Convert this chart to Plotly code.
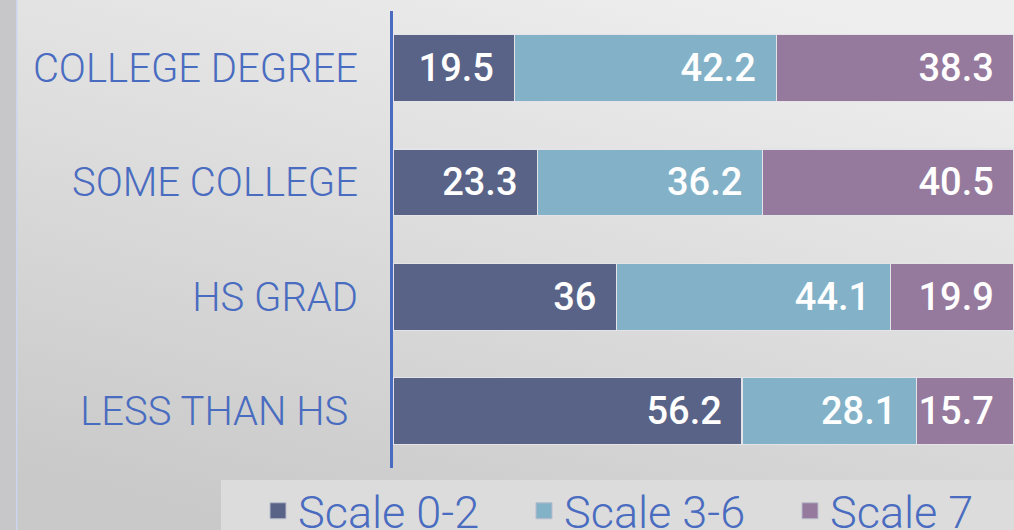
import base64
import plotly.graph_objects as go

# ---- data ----
categories = ["LESS THAN HS", "HS GRAD", "SOME COLLEGE", "COLLEGE DEGREE"]
tick_text = ["LESS THAN HS\u00a0", "HS GRAD", "SOME COLLEGE", "COLLEGE DEGREE"]
series_names = ["Scale 0-2", "Scale 3-6", "Scale 7"]
scale_0_2 = [56.2, 36, 23.3, 19.5]
scale_3_6 = [28.1, 44.1, 36.2, 42.2]
scale_7 = [15.7, 19.9, 40.5, 38.3]
colors = ["#596387", "#83b2c8", "#967a9e"]

W, H = 1014, 530
L, R, T, B = 393, 0, 11, 62
pw, ph = W - L - R, H - T - B

def px_x(px):
    return (px - L) / pw

def px_y(py):
    return (H - B - py) / ph

# background (gradient + left band) as an inline SVG image
svg = f"""<svg xmlns='http://www.w3.org/2000/svg' width='{W}' height='{H}'>
<defs><linearGradient id='g' x1='0.75' y1='0' x2='0.25' y2='1'>
<stop offset='0' stop-color='#eeeeee'/><stop offset='1' stop-color='#c9c9c9'/></linearGradient></defs>
<rect width='{W}' height='{H}' fill='url(#g)'/>
<rect x='0' y='0' width='16' height='{H}' fill='#c7c7ca'/>
<rect x='16' y='0' width='1.5' height='{H}' fill='#cdd5ee'/>
</svg>"""
bg_src = "data:image/svg+xml;base64," + base64.b64encode(svg.encode()).decode()

fig = go.Figure()
for name, vals, col in zip(series_names, [scale_0_2, scale_3_6, scale_7], colors):
    fig.add_trace(go.Bar(
        y=categories, x=vals, name=name, orientation="h",
        marker=dict(color=col, line=dict(color="#e4e4e8", width=1.2)),
        text=[f"{v}\u00a0\u2009" for v in vals],
        textposition="inside", insidetextanchor="end", textangle=0,
        textfont=dict(family="Roboto", size=38, color="white", weight=500),
        constraintext="none",
        hoverinfo="skip", showlegend=False, legendgroup=name,
    ))
# legend entries (larger square swatches)
for name, col in zip(series_names, colors):
    fig.add_trace(go.Scatter(
        x=[None], y=[None], mode="markers", name=name, legendgroup=name,
        marker=dict(symbol="square", size=21, color=col,
                    line=dict(color="#b9bccb", width=1)),
        hoverinfo="skip",
    ))

fig.update_layout(
    width=W, height=H,
    margin=dict(l=L, r=R, t=T, b=B, autoexpand=False),
    barmode="stack", bargap=0.414,
    paper_bgcolor="#dcdcdc", plot_bgcolor="rgba(0,0,0,0)",
    showlegend=True,
    legend=dict(
        orientation="h", x=px_x(258), y=px_y(475), xanchor="left", yanchor="top",
        bgcolor="rgba(0,0,0,0)", traceorder="normal", itemsizing="trace",
        font=dict(family="Roboto", size=45, color="#4a6cc0", weight=300),
        entrywidth=221, entrywidthmode="pixels",
    ),
    xaxis=dict(range=[0, 100], showgrid=False, zeroline=False, showticklabels=False,
               showline=False, fixedrange=True),
    yaxis=dict(categoryorder="array", categoryarray=categories,
               tickvals=categories, ticktext=tick_text,
               showline=True, linecolor="#4a6cc0", linewidth=3,
               showgrid=False, ticks="", ticklabelstandoff=24,
               tickfont=dict(family="Roboto", size=40, color="#4a6cc0", weight=300),
               fixedrange=True),
    images=[dict(source=bg_src, xref="paper", yref="paper",
                 x=px_x(0), y=px_y(0), sizex=W / pw, sizey=H / ph,
                 xanchor="left", yanchor="top", sizing="stretch", layer="below")],
    shapes=[dict(type="rect", xref="paper", yref="paper",
                 x0=px_x(221), x1=px_x(W + 5), y0=px_y(H + 10), y1=px_y(480),
                 fillcolor="#dcdcdc", line=dict(width=0), layer="below")],
)

fig.write_html(
    "out.html",
    config={"displayModeBar": False},
    post_script="document.body.style.margin='0';document.body.style.overflow='hidden';",
)
